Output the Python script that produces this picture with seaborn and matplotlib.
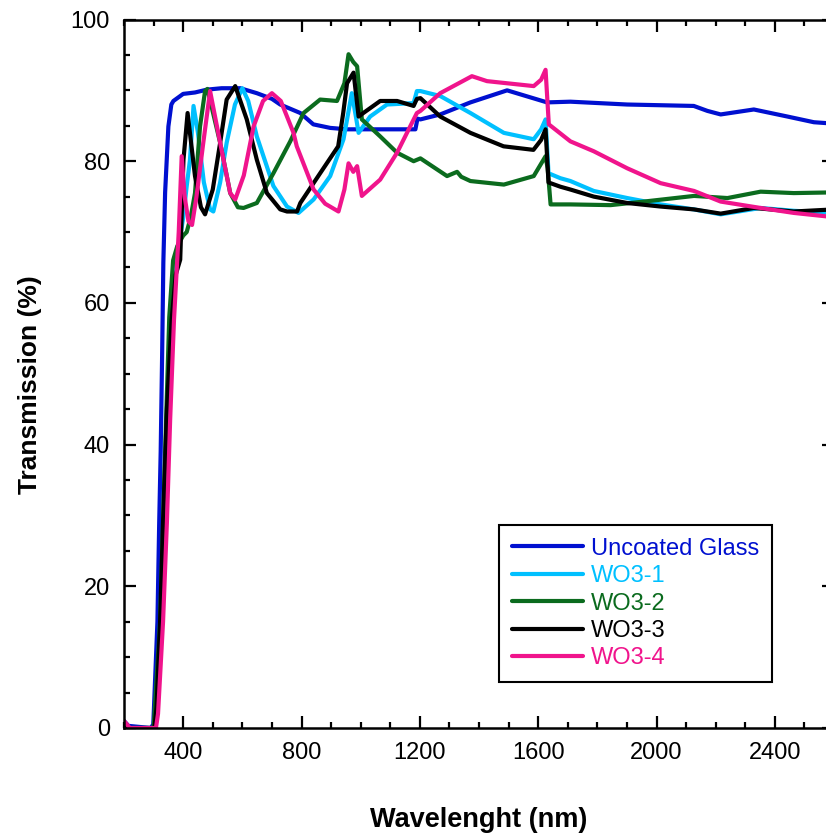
import numpy as np
import pandas as pd
import matplotlib
matplotlib.use("Agg")
import matplotlib.pyplot as plt
from matplotlib.ticker import MultipleLocator
import seaborn as sns

# Transmission spectra, values
glass_nm = [200, 215, 290, 299, 313, 319, 324, 329, 333, 339, 350, 360, 367, 400, 440, 480, 530,
            593, 649, 700, 728, 796, 840, 897, 954, 1000, 1100, 1185, 1192, 1202, 1269, 1371,
            1495, 1630, 1709, 1901, 2126, 2172, 2217, 2329, 2443, 2532, 2600]
glass_t = [1.0, 0.3, 0.0, 0.5, 15, 29, 39, 53, 65.7, 75.6, 84.9, 88.0, 88.5, 89.5, 89.7, 90.1, 90.3,
           90.3, 89.6, 88.8, 88.0, 86.8, 85.2, 84.7, 84.5, 84.5, 84.5, 84.5, 86.0, 85.9, 86.6, 88.3,
           90.0, 88.3, 88.4, 88.0, 87.8, 87.1, 86.6, 87.3, 86.3, 85.5, 85.3]

wo1_nm = [200, 215, 303, 310, 322, 334, 345, 358, 370, 385, 400, 412, 423, 435, 450, 470, 491, 502,
          525, 547, 575, 600, 620, 649, 705, 751, 790, 841, 897, 942, 970, 985, 993, 1032, 1089,
          1179, 1190, 1202, 1269, 1371, 1484, 1585, 1610, 1625, 1635, 1675, 1709, 1788, 1901, 2014,
          2126, 2217, 2352, 2464, 2600]
wo1_t = [0.5, 0.0, 0.0, 3, 15, 29, 43.5, 57.6, 64, 68, 72, 76.5, 80.2, 87.8, 84, 77, 73.2, 72.9,
         77, 82.6, 88, 90.3, 88.5, 83.5, 76.5, 73.6, 72.7, 74.6, 77.9, 83.1, 89.6, 86, 84.0, 86.3, 88.0,
         88.2, 89.9, 89.9, 89.2, 86.8, 84.0, 83.1, 84.5, 85.9, 78.3, 77.6, 77.2, 75.8, 74.8, 73.9,
         73.2, 72.5, 73.4, 73.0, 72.7]

wo2_nm = [200, 215, 300, 322, 332, 342, 353, 366, 380, 400, 412, 425, 440, 457, 474, 482, 500, 525,
          559, 585, 604, 649, 705, 762, 807, 863, 920, 945, 959, 975, 988, 1004, 1066, 1123, 1179,
          1202, 1292, 1326, 1340, 1371, 1484, 1585, 1625, 1632, 1642, 1709, 1845, 1957, 2127, 2240,
          2352, 2464, 2600]
wo2_t = [0.5, 0.0, 0.0, 15, 29, 43, 58, 66, 68, 69.5, 70, 72, 75.5, 84.9, 89.9, 90.2, 87, 82.6,
         75.5, 73.5, 73.4, 74.1, 78.3, 82.8, 86.8, 88.7, 88.5, 91, 95.1, 94, 93.4, 85.9, 83.5, 81.2, 80.0,
         80.4, 77.9, 78.5, 77.8, 77.2, 76.7, 77.9, 80.7, 79, 73.9, 73.9, 73.8, 74.3, 75.1, 74.8,
         75.7, 75.5, 75.6]

wo3_nm = [200, 215, 303, 310, 322, 332, 345, 361, 375, 390, 401, 415, 440, 460, 474, 500, 525, 547,
          576, 615, 649, 683, 728, 751, 785, 796, 863, 924, 941, 954, 976, 993, 1009, 1066, 1123,
          1179, 1190, 1202, 1269, 1371, 1483, 1584, 1610, 1625, 1635, 1675, 1709, 1788, 1901, 2014,
          2126, 2217, 2329, 2464, 2600]
wo3_t = [0.5, 0.0, 0.0, 3, 15, 29, 45, 57.6, 64, 66.1, 80.2, 86.8, 77.9, 73.5, 72.5, 76, 82.6, 88.7,
         90.6, 85.9, 80.2, 75.5, 73.2, 72.9, 72.9, 74.1, 78.3, 82.1, 86.8, 91.0, 92.5, 86.3, 86.8, 88.5, 88.5,
         87.8, 88.8, 88.9, 86.3, 84.0, 82.1, 81.6, 83, 84.5, 77.0, 76.4, 76.0, 75.0, 74.1, 73.6,
         73.2, 72.6, 73.4, 72.9, 73.2]

wo4_nm = [200, 220, 308, 315, 332, 345, 356, 369, 385, 395, 405, 418, 430, 445, 468, 491, 525, 559,
          576, 605, 638, 670, 700, 730, 773, 784, 841, 880, 925, 945, 959, 975, 988, 1004, 1066, 1123,
          1190, 1202, 1269, 1376, 1427, 1540, 1585, 1610, 1625, 1636, 1709, 1788, 1901, 2014, 2127,
          2217, 2352, 2464, 2600]
wo4_t = [1.0, 0.0, 0.0, 2, 15, 29, 43.5, 57.6, 70, 80.7, 75, 71.5, 71, 75, 82.6, 89.9, 82.6, 75.5,
         74.6, 78, 84.9, 88.5, 89.6, 88.5, 84.0, 82.1, 76, 74, 72.9, 76, 79.7, 78.5, 79.3, 75.1, 77.4, 81.2,
         86.8, 87.1, 89.6, 92.0, 91.3, 90.8, 90.6, 91.5, 92.9, 85.2, 82.8, 81.4, 79.0, 76.9, 75.8,
         74.3, 73.4, 72.7, 72.1]

series = [("Uncoated Glass", glass_nm, glass_t, "#0010D0"),
          ("WO3-1", wo1_nm, wo1_t, "#00C0FF"),
          ("WO3-2", wo2_nm, wo2_t, "#0B6B1E"),
          ("WO3-3", wo3_nm, wo3_t, "#000000"),
          ("WO3-4", wo4_nm, wo4_t, "#F0148C")]

sns.set_style("ticks")
plt.rcParams['font.family'] = ['Liberation Sans', 'DejaVu Sans']
plt.rcParams['text.color'] = 'black'
plt.rcParams['axes.labelcolor'] = 'black'

fig = plt.figure(figsize=(8.26, 8.36), dpi=100)
# right spine sits just outside the picture, as in the reference
ax = fig.add_axes([124 / 826, 1 - 728 / 836, 710 / 826, 708.5 / 836])

for name, xs, ys, col in series:
    df = pd.DataFrame({"nm": xs, "T": ys})
    sns.lineplot(data=df, x="nm", y="T", color=col, lw=3.0, label=name, ax=ax,
                 estimator=None, sort=False)

ax.set_xlim(200, 2600)
ax.set_ylim(0, 100)
ax.xaxis.set_major_locator(MultipleLocator(400))
ax.xaxis.set_minor_locator(MultipleLocator(100))
ax.yaxis.set_major_locator(MultipleLocator(20))
ax.yaxis.set_minor_locator(MultipleLocator(5))
ax.tick_params(which="both", direction="in", top=True, right=True, labelsize=17, pad=10,
               colors="black")
ax.tick_params(which="major", length=8.5, width=1.6)
ax.tick_params(which="minor", length=4.5, width=1.6)
for sp in ax.spines.values():
    sp.set_linewidth(1.8)
    sp.set_color("black")

ax.set_xlabel("Wavelenght (nm)", fontsize=19.5, fontweight="bold", labelpad=31)
ax.set_ylabel("Transmission (%)", fontsize=19, fontweight="bold")
ax.yaxis.set_label_coords(-0.115, 0.485)

leg = ax.legend(loc="upper left", bbox_to_anchor=(0.528, 0.287), borderaxespad=0,
                fontsize=17, handlelength=3.0, labelspacing=0.23, handletextpad=0.35,
                fancybox=False, framealpha=1, edgecolor="black", borderpad=0.55)
leg.get_frame().set_linewidth(1.5)
for txt, (_, _, _, col) in zip(leg.get_texts(), series):
    txt.set_color(col)
for h in leg.get_lines():
    h.set_linewidth(3)

fig.savefig("out.png", dpi=100)
